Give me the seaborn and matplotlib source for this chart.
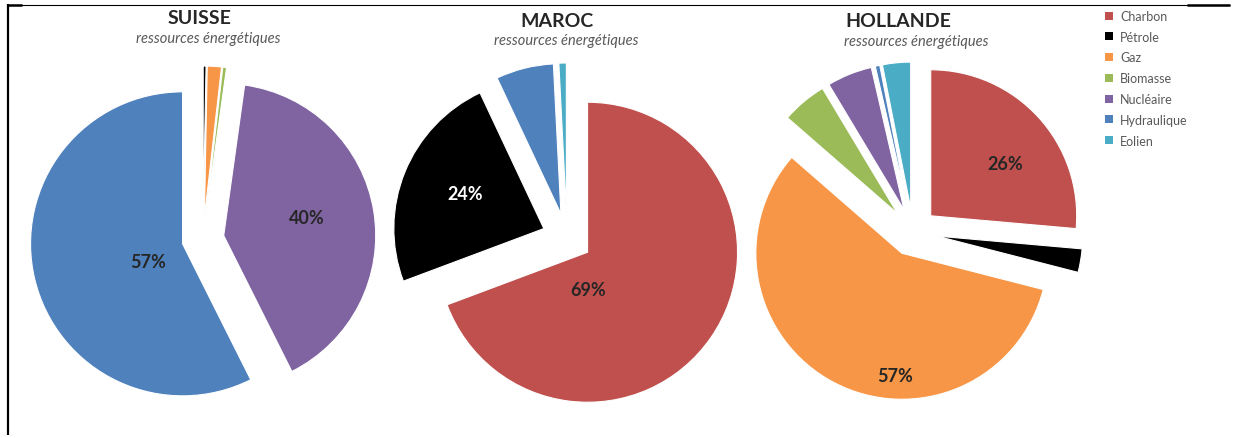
import matplotlib
matplotlib.use("Agg")
import matplotlib.pyplot as plt
from matplotlib.patches import Patch
from matplotlib.lines import Line2D
import seaborn as sns

# Energy sources and their colours
categories = ["Charbon", "Pétrole", "Gaz", "Biomasse", "Nucléaire", "Hydraulique", "Eolien"]
palette = ["#C0504D", "#000000", "#F79646", "#9BBB59", "#8064A2", "#4F81BD", "#4BACC6"]

countries = ["SUISSE", "MAROC", "HOLLANDE"]
subtitle = "ressources énergétiques"

# Share of each source (%), same order as categories
suisse = [0.0, 0.3, 1.5, 0.4, 40.4, 57.4, 0.0]
maroc = [69.3, 23.7, 0.0, 0.0, 0.0, 6.2, 0.8]
hollande = [26.4, 2.6, 57.4, 5.0, 5.0, 0.5, 3.1]
shares = [suisse, maroc, hollande]

sns.set_theme(style="white")
plt.rcParams["font.family"] = ["Lato", "DejaVu Sans"]

W, H = 1233, 439
fig = plt.figure(figsize=(W / 100, H / 100), dpi=100)
ax = fig.add_axes([0, 0, 1, 1])

# Layout in pixel units (y upward): pie centre, radius, explosion, title spots,
# and offsets of the percentage labels from the pie centre
layout = {
    "SUISSE": dict(center=(203, 199), radius=152, explode=21,
                   title=(200, 421), sub=(208, 400),
                   labels={"Hydraulique": (-55, -22), "Nucléaire": (104, 22)}),
    "MAROC": dict(center=(567, 200), radius=150, explode=25,
                  title=(557, 418), sub=(566, 398),
                  labels={"Pétrole": (-102, 44), "Charbon": (21, -51)}),
    "HOLLANDE": dict(center=(913, 206), radius=146, explode=24,
                     title=(898, 418), sub=(916, 397),
                     labels={"Charbon": (92, 69), "Gaz": (-18, -144)}),
}

for name, values in zip(countries, shares):
    cfg = layout[name]
    keep = [i for i, v in enumerate(values) if v > 0]
    vals = [values[i] for i in keep]
    cols = [palette[i] for i in keep]
    ax.pie(vals, colors=cols, startangle=90, counterclock=False,
           radius=cfg["radius"], center=cfg["center"],
           explode=[cfg["explode"]] * len(vals), frame=True,
           wedgeprops=dict(edgecolor="white", linewidth=0.8))
    total = sum(values)
    cx, cy = cfg["center"]
    for cat, (dx, dy) in cfg["labels"].items():
        i = categories.index(cat)
        pct = values[i] / total * 100
        ax.text(cx + dx, cy + dy, f"{pct:.0f}%", ha="center", va="center",
                fontsize=13, fontweight="bold",
                color="white" if palette[i] == "#000000" else "#262626")
    ax.text(*cfg["title"], name, ha="center", va="center", fontsize=14,
            fontweight="bold", color="#262626")
    ax.text(*cfg["sub"], subtitle, ha="center", va="center", fontsize=10.5,
            fontstyle="italic", color="#595959")

ax.set_xlim(0, W)
ax.set_ylim(0, H)
ax.set_aspect("equal")
ax.axis("off")

handles = [Patch(facecolor=c, edgecolor="none", label=n) for n, c in zip(categories, palette)]
ax.legend(handles=handles, loc="upper left", bbox_to_anchor=(1105 / W, 1 - 11 / H),
          bbox_transform=fig.transFigure, frameon=False, fontsize=9,
          handlelength=0.6, handleheight=0.6, handletextpad=0.6,
          labelspacing=0.7, borderpad=0, borderaxespad=0, labelcolor="#595959")

# Frame lines along the left and top edges
def fig_line(xs, ys, lw):
    fig.add_artist(Line2D([x / W for x in xs], [1 - y / H for y in ys],
                          transform=fig.transFigure, color="black", lw=lw,
                          solid_capstyle="butt"))

fig_line([8, 8], [5, 436], 1.6)
fig_line([8, 1230], [6, 6], 0.8)
fig_line([8, 22], [6, 6], 1.8)
fig_line([1187, 1230], [6, 6], 1.8)

fig.savefig("out.png", dpi=100)
